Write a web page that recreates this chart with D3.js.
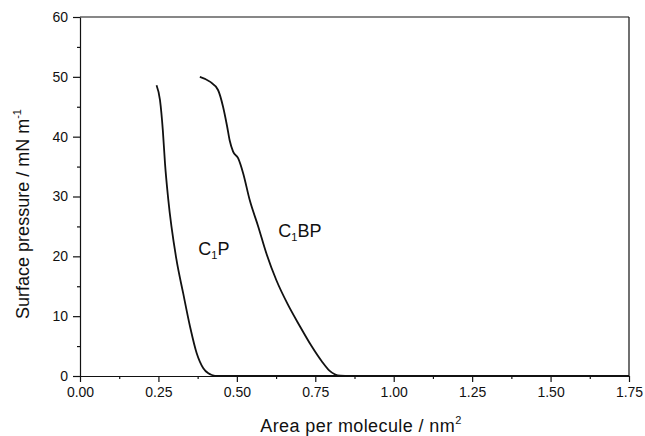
<!DOCTYPE html>
<html>
<head>
<meta charset="utf-8">
<script src="https://cdn.jsdelivr.net/npm/d3@7"></script>
<style>
  body { margin: 0; background: #fff; }
  text { font-family: "Liberation Sans", Arial, sans-serif; fill: #111; }
</style>
</head>
<body>
<div id="chart"></div>
<script>
// data (area nm^2, pressure mN/m)
const c1pArea = [0.244, 0.255, 0.264, 0.271, 0.281, 0.307, 0.329, 0.351, 0.372, 0.393, 0.409, 0.420, 0.44, 1.75];
const c1pPressure = [48.6, 46.1, 41.1, 35.5, 29.7, 19.6, 13.8, 8.2, 3.8, 1.3, 0.45, 0.17, 0, 0];

const c1bpArea = [0.382, 0.414, 0.440, 0.456, 0.469, 0.477, 0.488, 0.504, 0.520, 0.541, 0.568, 0.594, 0.626, 0.662, 0.700, 0.738, 0.770, 0.795, 0.812, 0.83, 0.86, 1.75];
const c1bpPressure = [50.0, 49.2, 47.8, 45.0, 41.7, 39.4, 37.5, 36.4, 33.9, 29.4, 25.0, 20.5, 16.0, 12.0, 8.4, 5.0, 2.5, 0.9, 0.3, 0.05, 0, 0];

const xTicks = [0, 0.25, 0.5, 0.75, 1.0, 1.25, 1.5, 1.75];
const yTicks = [0, 10, 20, 30, 40, 50, 60];

const width = 645, height = 436;
const margin = {left: 80, right: 16, top: 17, bottom: 60};

const svg = d3.select('#chart')
    .append('svg')
    .attr('width', width)
    .attr('height', height);

const xScale = d3.scaleLinear()
    .domain([0, 1.75])
    .range([margin.left, width - margin.right]);

const yScale = d3.scaleLinear()
    .domain([0, 60])
    .range([height - margin.bottom, margin.top]);

// minor ticks first
svg.append('g')
    .attr('transform', `translate(0,${yScale(0)})`)
    .call(d3.axisBottom(xScale).tickValues(d3.range(0.125, 1.75, 0.25)).tickSize(3).tickFormat(''))
    .call(g => g.select('.domain').remove());

svg.append('g')
    .attr('transform', `translate(${xScale(0)},0)`)
    .call(d3.axisLeft(yScale).tickValues(d3.range(5, 60, 10)).tickSize(3).tickFormat(''))
    .call(g => g.select('.domain').remove());

// major axes
svg.append('g')
    .attr('transform', `translate(0,${yScale(0)})`)
    .call(d3.axisBottom(xScale).tickValues(xTicks).tickSize(6).tickSizeOuter(0).tickPadding(5).tickFormat(d3.format('.2f')));

svg.append('g')
    .attr('transform', `translate(${xScale(0)},0)`)
    .call(d3.axisLeft(yScale).tickValues(yTicks).tickSize(7).tickSizeOuter(0).tickPadding(5).tickFormat(d3.format('d')));

svg.selectAll('.tick text').style('font-size', '14px').attr('fill', '#111');
svg.selectAll('.tick line, .domain').attr('stroke', '#111').attr('stroke-width', 1.2);

// top and right frame
svg.append('line')
    .attr('x1', xScale(0)).attr('x2', xScale(1.75))
    .attr('y1', yScale(60)).attr('y2', yScale(60))
    .attr('stroke', '#111').attr('stroke-width', 1.2);
svg.append('line')
    .attr('x1', xScale(1.75)).attr('x2', xScale(1.75))
    .attr('y1', yScale(60)).attr('y2', yScale(0))
    .attr('stroke', '#111').attr('stroke-width', 1.2);

// curves
const line = d3.line()
    .x(d => xScale(d[0]))
    .y(d => yScale(d[1]))
    .curve(d3.curveMonotoneX);

[[c1pArea, c1pPressure], [c1bpArea, c1bpPressure]].forEach(([xs, ys]) => {
    svg.append('path')
        .datum(d3.zip(xs, ys))
        .attr('d', line)
        .attr('fill', 'none')
        .attr('stroke', '#111')
        .attr('stroke-width', 1.8);
});

// curve labels
const lab1 = svg.append('text').attr('x', xScale(0.377)).attr('y', yScale(20.2)).style('font-size', '18px');
lab1.append('tspan').text('C');
lab1.append('tspan').text('1').style('font-size', '11px').attr('dy', 4);
lab1.append('tspan').text('P').attr('dy', -4);

const lab2 = svg.append('text').attr('x', xScale(0.632)).attr('y', yScale(23.3)).style('font-size', '18px');
lab2.append('tspan').text('C');
lab2.append('tspan').text('1').style('font-size', '11px').attr('dy', 4);
lab2.append('tspan').text('BP').attr('dy', -4);

// axis titles
const xt = svg.append('text')
    .attr('x', 361)
    .attr('y', 432)
    .attr('text-anchor', 'middle')
    .style('font-size', '18px')
    .style('letter-spacing', '0.4px');
xt.append('tspan').text('Area per molecule / nm');
xt.append('tspan').text('2').style('font-size', '11px').attr('dy', -8);

const yt = svg.append('text')
    .attr('transform', 'translate(29,214) rotate(-90)')
    .attr('text-anchor', 'middle')
    .style('font-size', '18px');
yt.append('tspan').text('Surface pressure / mN m');
yt.append('tspan').text('-1').style('font-size', '11px').attr('dy', -8);
</script>
</body>
</html>
